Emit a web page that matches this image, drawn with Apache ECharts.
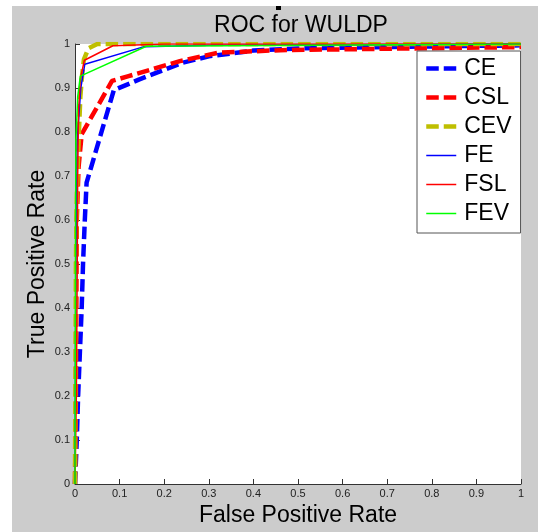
<!DOCTYPE html>
<html>
<head>
<meta charset="utf-8">
<script src="https://cdn.jsdelivr.net/npm/echarts@6/dist/echarts.min.js"></script>
<style>html,body{margin:0;padding:0;background:#fff;}#c{width:538px;height:532px;}</style>
</head>
<body>
<div id="c"></div>
<script>
// ROC points [false positive rate, true positive rate]
const CE  = [[0,0],[0.004,0.1],[0.007,0.2],[0.011,0.3],[0.015,0.4],[0.018,0.5],[0.022,0.6],[0.026,0.685],[0.087,0.895],[0.143,0.919],[0.24,0.957],[0.3,0.972],[0.4,0.985],[0.5,0.99],[0.7,0.993],[0.85,0.995],[1,0.997]];
const CSL = [[0,0],[0.002,0.2],[0.003,0.4],[0.004,0.6],[0.008,0.72],[0.015,0.795],[0.083,0.916],[0.12,0.927],[0.235,0.961],[0.32,0.98],[0.46,0.986],[0.76,0.99],[1,0.993]];
const CEV = [[0,0],[0.002,0.5],[0.004,0.65],[0.008,0.78],[0.012,0.88],[0.016,0.93],[0.02,0.965],[0.03,0.99],[0.05,1],[1,1]];
const FE  = [[0,0],[0.002,0.5],[0.005,0.78],[0.013,0.9],[0.022,0.954],[0.155,0.994],[0.3,0.997],[1,1]];
const FSL = [[0,0],[0.003,0.2],[0.005,0.5],[0.006,0.7],[0.008,0.85],[0.012,0.92],[0.021,0.963],[0.085,0.996],[0.2,1],[1,1]];
const FEV = [[0,0],[0.001,0.5],[0.002,0.78],[0.006,0.88],[0.012,0.927],[0.16,0.995],[1,1]];
const seriesNames = ['CE','CSL','CEV','FE','FSL','FEV'];
const seriesData = [CE, CSL, CEV, FE, FSL, FEV];
const seriesColors = ['#0000ff','#ff0000','#bfbf00','#0000ff','#ff0000','#00ff00'];
const seriesDashed = [true, true, true, false, false, false];
const titleText = 'ROC for WULDP';
const xName = 'False Positive Rate';
const yName = 'True Positive Rate';

const FONT = '"Liberation Sans", Arial, sans-serif';
const chart = echarts.init(document.getElementById('c'), null, {renderer: 'canvas'});
chart.setOption({
  backgroundColor: '#ffffff',
  animation: false,
  graphic: [
    {type: 'rect', z: -10, shape: {x: 12, y: 6, width: 526, height: 526}, style: {fill: '#cccccc'}},
    {type: 'rect', z: 100, shape: {x: 276, y: 6, width: 5, height: 4}, style: {fill: '#000'}}
  ],
  title: {
    text: titleText, left: 296, top: 9, textAlign: 'center',
    textStyle: {fontFamily: FONT, fontSize: 23, fontWeight: 'normal', color: '#000'}
  },
  grid: {left: 75, top: 44, width: 446, height: 442, show: true, backgroundColor: '#fff', borderWidth: 0, containLabel: false},
  xAxis: {
    type: 'value', min: 0, max: 1, interval: 0.1,
    name: xName, nameLocation: 'middle', nameGap: 20, nameMoveOverlap: false,
    nameTextStyle: {fontFamily: FONT, fontSize: 23, color: '#000'},
    axisLine: {show: true, lineStyle: {color: '#333', width: 1}},
    axisTick: {show: true, inside: true, length: 5, lineStyle: {color: '#333'}},
    axisLabel: {fontFamily: FONT, fontSize: 11, color: '#222', margin: 4},
    splitLine: {show: false}
  },
  yAxis: {
    type: 'value', min: 0, max: 1, interval: 0.1,
    name: yName, nameLocation: 'middle', nameGap: 26, nameMoveOverlap: false,
    nameTextStyle: {fontFamily: FONT, fontSize: 23, color: '#000'},
    axisLine: {show: true, lineStyle: {color: '#333', width: 1}},
    axisTick: {show: true, inside: true, length: 5, lineStyle: {color: '#333'}},
    axisLabel: {fontFamily: FONT, fontSize: 11, color: '#222', margin: 5},
    splitLine: {show: false}
  },
  legend: {
    orient: 'vertical', left: 417, top: 51,
    padding: [6, 9, 8, 7], itemGap: 6, itemWidth: 30, itemHeight: 14,
    backgroundColor: '#fff', borderColor: '#555', borderWidth: 1, borderRadius: 0,
    textStyle: {fontFamily: FONT, fontSize: 23, color: '#000', padding: [0, 0, 0, 3]},
    itemStyle: {opacity: 0},
    lineStyle: {width: 'inherit'},
    data: seriesNames
  },
  series: seriesNames.map((n, i) => ({
    name: n, type: 'line', data: seriesData[i], symbol: 'none', showSymbol: false,
    lineStyle: {color: seriesColors[i], width: seriesDashed[i] ? 4.5 : 1.5, type: seriesDashed[i] ? [12.5, 5] : 'solid'},
    itemStyle: {color: seriesColors[i]},
    clip: true
  }))
});
</script>
</body>
</html>
